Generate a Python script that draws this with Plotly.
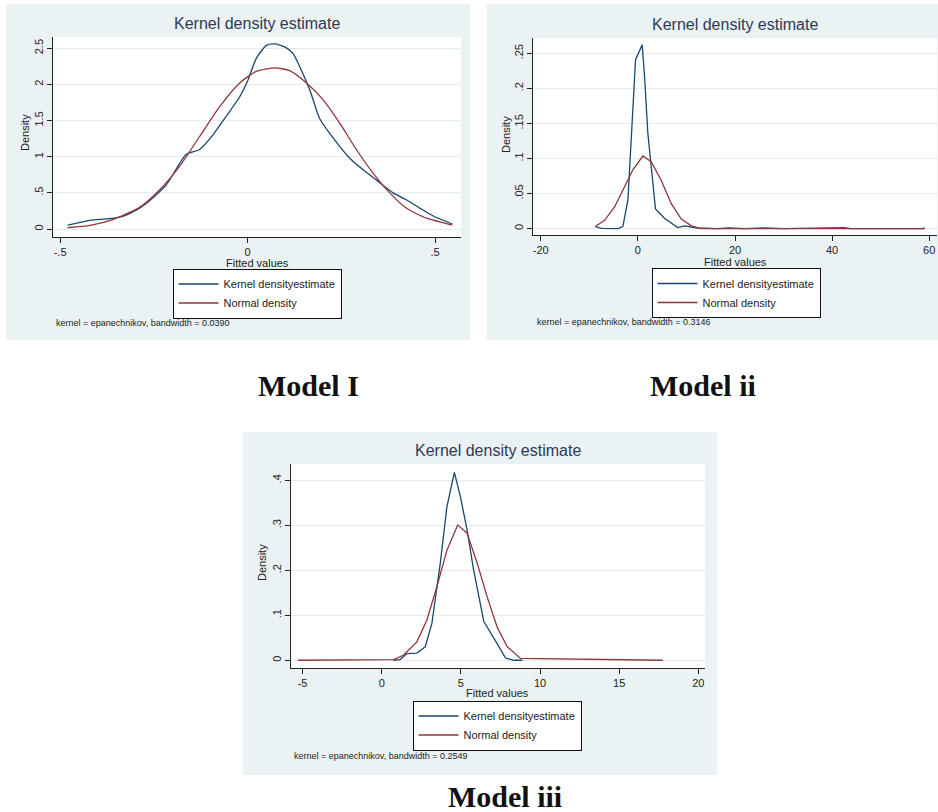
import plotly.graph_objects as go

W, H = 938, 812

# ---------------- data ----------------
m1_kde_x = [-0.48, -0.42, -0.368, -0.333, -0.288, -0.253, -0.217, -0.164, -0.128, -0.093, -0.057,
            -0.021, 0.001, 0.023, 0.05, 0.072, 0.099, 0.121, 0.143, 0.166, 0.192, 0.228, 0.272,
            0.308, 0.343, 0.388, 0.423, 0.459, 0.495, 0.546]
m1_kde_y = [0.055, 0.12, 0.143, 0.175, 0.29, 0.43, 0.61, 1.03, 1.10, 1.30, 1.56,
            1.83, 2.06, 2.36, 2.54, 2.56, 2.52, 2.43, 2.20, 1.92, 1.53, 1.26, 0.98,
            0.82, 0.68, 0.50, 0.405, 0.29, 0.18, 0.07]
m1_norm_x = [-0.48, -0.42, -0.36, -0.288, -0.235, -0.181, -0.128, -0.075, -0.021, 0.023, 0.072,
             0.112, 0.157, 0.201, 0.246, 0.290, 0.335, 0.379, 0.423, 0.477, 0.546]
m1_norm_y = [0.018, 0.05, 0.13, 0.30, 0.54, 0.87, 1.28, 1.69, 2.02, 2.18, 2.23,
             2.19, 2.02, 1.79, 1.46, 1.10, 0.77, 0.50, 0.29, 0.15, 0.055]

m2_kde_x = [-8.77, -7.5, -4.1, -3.1, -2.05, -1.03, -0.48, 0.89, 1.37, 2.05, 3.63, 5.48, 8.2, 9.6,
            12.3, 16.4, 18.8, 21.9, 26.0, 30.1, 42.5, 43.8, 58.9, 59.0]
m2_kde_y = [0.003, 0.0005, 0.0, 0.003, 0.041, 0.169, 0.241, 0.262, 0.217, 0.136, 0.028, 0.015,
            0.0015, 0.004, 0.001, 0.0, 0.001, 0.0, 0.001, 0.0, 0.0015, 0.0, 0.0, 0.002]
m2_norm_x = [-8.77, -6.85, -4.8, -2.74, -1.03, 1.03, 2.74, 4.8, 6.85, 8.9, 11.0, 13.0, 58.9]
m2_norm_y = [0.003, 0.012, 0.031, 0.060, 0.084, 0.1036, 0.0955, 0.069, 0.036, 0.014, 0.004, 0.0, 0.0]

m3_kde_x = [0.74, 1.16, 1.59, 2.22, 2.75, 3.17, 3.7, 4.12, 4.59, 4.97, 5.39, 5.81, 6.45, 6.87,
            7.29, 7.82, 8.35, 8.88]
m3_kde_y = [0.0, 0.0015, 0.015, 0.016, 0.03, 0.082, 0.216, 0.342, 0.418, 0.364, 0.29, 0.20, 0.086,
            0.063, 0.037, 0.005, 0.0, 0.0]
m3_norm_x = [-5.29, 0.74, 1.37, 2.22, 2.85, 3.49, 4.12, 4.80, 5.39, 6.03, 6.66, 7.29, 7.93, 8.77, 17.76]
m3_norm_y = [0.0, 0.0015, 0.011, 0.041, 0.089, 0.164, 0.245, 0.301, 0.283, 0.216, 0.141, 0.074,
             0.030, 0.004, 0.0]

# tick values / labels
m1_xticks = [-0.5, 0, 0.5]; m1_xtext = ["-.5", "0", ".5"]
m1_yticks = [0, 0.5, 1, 1.5, 2, 2.5]; m1_ytext = ["0", ".5", "1", "1.5", "2", "2.5"]
m2_xticks = [-20, 0, 20, 40, 60]; m2_xtext = ["-20", "0", "20", "40", "60"]
m2_yticks = [0, 0.05, 0.1, 0.15, 0.2, 0.25]; m2_ytext = ["0", ".05", ".1", ".15", ".2", ".25"]
m3_xticks = [-5, 0, 5, 10, 15, 20]; m3_xtext = ["-5", "0", "5", "10", "15", "20"]
m3_yticks = [0, 0.1, 0.2, 0.3, 0.4]; m3_ytext = ["0", ".1", ".2", ".3", ".4"]

captions = ["Model I", "Model ii", "Model iii"]
notes = ["kernel = epanechnikov, bandwidth = 0.0390",
         "kernel = epanechnikov, bandwidth = 0.3146",
         "kernel = epanechnikov, bandwidth = 0.2549"]
kde_name = "Kernel densityestimate"
norm_name = "Normal density"

# ---------------- layout geometry (pixels) ----------------
BLUE = "#1A476F"
RED = "#90353B"
BGR = "#EAF2F3"
FONT = "Liberation Sans, Arial, sans-serif"

panels = [
    dict(region=(6, 4, 470, 340), plot=(53, 37, 461, 237), xr=[-0.519, 0.569], yr=[-0.11, 2.656],
         kx=m1_kde_x, ky=m1_kde_y, nx=m1_norm_x, ny=m1_norm_y, spline=True,
         xt=(m1_xticks, m1_xtext), yt=(m1_yticks, m1_ytext),
         title=(257, 24), xtitle=(257, 263), ytitle=(25, 133), legend=(257, 293.5), note=(54, 323)),
    dict(region=(487, 4, 938, 340), plot=(533, 38, 937, 235), xr=[-21.6, 61.6], yr=[-0.009, 0.2718],
         kx=m2_kde_x, ky=m2_kde_y, nx=m2_norm_x, ny=m2_norm_y, spline=False,
         xt=(m2_xticks, m2_xtext), yt=(m2_yticks, m2_ytext),
         title=(735, 25), xtitle=(735, 262), ytitle=(506, 135), legend=(736, 293), note=(535, 322)),
    dict(region=(243, 432, 717, 775), plot=(291, 464, 705, 668), xr=[-5.73, 20.42], yr=[-0.0172, 0.4366],
         kx=m3_kde_x, ky=m3_kde_y, nx=m3_norm_x, ny=m3_norm_y, spline=False,
         xt=(m3_xticks, m3_xtext), yt=(m3_yticks, m3_ytext),
         title=(498, 451), xtitle=(497, 693), ytitle=(262, 563), legend=(497, 725.5), note=(292, 756)),
]
caption_pos = [(308, 385), (703, 385), (505, 796)]

fig = go.Figure()
shapes = []
annotations = []
layout = {}

def px(x):
    return x / W

def py(y):
    return 1 - y / H

for i, p in enumerate(panels, start=1):
    sx = "" if i == 1 else str(i)
    x0, y0, x1, y1 = p["region"]
    shapes.append(dict(type="rect", xref="paper", yref="paper", x0=px(x0), x1=px(x1), y0=py(y1), y1=py(y0),
                       fillcolor=BGR, line=dict(width=0), layer="below"))
    a0, b0, a1, b1 = p["plot"]
    shapes.append(dict(type="rect", xref="paper", yref="paper", x0=px(a0), x1=px(a1), y0=py(b1), y1=py(b0),
                       fillcolor="white", line=dict(width=0), layer="below"))
    leg = "legend" if i == 1 else f"legend{i}"
    shape = "spline" if p["spline"] else "linear"
    fig.add_trace(go.Scatter(x=p["kx"], y=p["ky"], mode="lines", name=kde_name,
                             line=dict(color=BLUE, width=1.3, shape=shape, smoothing=0.6),
                             xaxis="x" + sx, yaxis="y" + sx, legend=leg))
    fig.add_trace(go.Scatter(x=p["nx"], y=p["ny"], mode="lines", name=norm_name,
                             line=dict(color=RED, width=1.3, shape=shape, smoothing=0.6),
                             xaxis="x" + sx, yaxis="y" + sx, legend=leg))
    layout["xaxis" + sx] = dict(domain=[px(a0), px(a1)], range=p["xr"], anchor="y" + sx,
                               tickmode="array", tickvals=p["xt"][0], ticktext=p["xt"][1],
                               ticks="outside", ticklen=5, tickcolor="#222", showgrid=False,
                               zeroline=False, showline=True, linecolor="#222", linewidth=1,
                               tickfont=dict(size=11, color="#222", family=FONT))
    layout["yaxis" + sx] = dict(domain=[py(b1), py(b0)], range=p["yr"], anchor="x" + sx,
                               tickmode="array", tickvals=p["yt"][0], ticktext=p["yt"][1],
                               ticks="outside", ticklen=5, tickcolor="#222", showgrid=True,
                               gridcolor="#E4ECEE", gridwidth=1, tickangle=-90,
                               zeroline=False, showline=True, linecolor="#222", linewidth=1,
                               tickfont=dict(size=11, color="#222", family=FONT))
    lx, ly = p["legend"]
    layout[leg] = dict(x=px(lx), y=py(ly), xanchor="center", yanchor="middle", bgcolor="white",
                       bordercolor="#111", borderwidth=1, font=dict(size=11, color="#222", family=FONT),
                       tracegroupgap=0, itemwidth=40)
    tx, ty = p["title"]
    annotations.append(dict(text="Kernel density estimate", x=px(tx), y=py(ty), xref="paper", yref="paper",
                            showarrow=False, xanchor="center", yanchor="middle",
                            font=dict(size=16, color="#2E3A55", family=FONT)))
    tx, ty = p["xtitle"]
    annotations.append(dict(text="Fitted values", x=px(tx), y=py(ty), xref="paper", yref="paper",
                            showarrow=False, xanchor="center", yanchor="middle",
                            font=dict(size=11, color="#222", family=FONT)))
    tx, ty = p["ytitle"]
    annotations.append(dict(text="Density", x=px(tx), y=py(ty), xref="paper", yref="paper",
                            showarrow=False, xanchor="center", yanchor="middle", textangle=-90,
                            font=dict(size=11, color="#222", family=FONT)))
    tx, ty = p["note"]
    annotations.append(dict(text=notes[i - 1], x=px(tx), y=py(ty), xref="paper", yref="paper",
                            showarrow=False, xanchor="left", yanchor="middle",
                            font=dict(size=9, color="#222", family=FONT)))

for c, (cx, cy) in zip(captions, caption_pos):
    annotations.append(dict(text="<b>" + c + "</b>", x=px(cx), y=py(cy), xref="paper", yref="paper",
                            showarrow=False, xanchor="center", yanchor="middle",
                            font=dict(size=30, color="#111", family="Liberation Serif, Times New Roman, serif")))

fig.update_layout(width=W, height=H, margin=dict(l=0, r=0, t=0, b=0), autosize=False,
                  paper_bgcolor="white", plot_bgcolor="rgba(0,0,0,0)", showlegend=True,
                  shapes=shapes, annotations=annotations, **layout)

fig.write_html("out.html", config={"displayModeBar": False},
               post_script="document.body.style.margin='0';document.body.style.overflow='hidden';")
